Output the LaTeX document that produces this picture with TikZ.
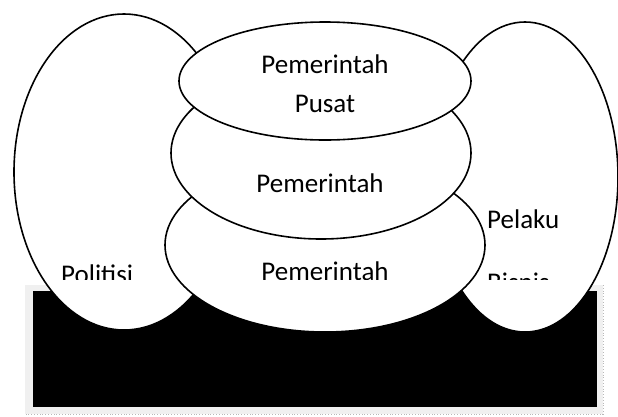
\documentclass[tikz,border=0pt]{standalone}
\usepackage{fontspec}
\setmainfont{Carlito}
\usetikzlibrary{shapes.geometric}
\begin{document}
\begin{tikzpicture}[x=1pt,y=-1pt,
  oval/.style={ellipse, draw=black, fill=white, line width=1.6pt, inner sep=0pt, outer sep=0pt},
  lbl/.style={inner sep=0pt, font=\fontsize{27}{32}\selectfont}]
\useasboundingbox (0,0) rectangle (618,416);
% framed black box
\fill[gray!12] (25,285) rectangle (603,414);
\draw[gray!55, dotted, line width=0.8pt] (603,285) -- (603,414) -- (25,414);
\fill[black] (33,291) rectangle (597,407);
% ovals, back to front
\node[oval, minimum width=220pt, minimum height=316pt] (politisiOval) at (124,172) {};
\node[oval, minimum width=186pt, minimum height=310pt] (bisnisOval) at (525,177) {};
\node[oval, minimum width=320pt, minimum height=174pt] (bawahOval) at (325,245) {};
\node[oval, minimum width=300pt, minimum height=172pt] (tengahOval) at (321,153) {};
\node[oval, minimum width=292pt, minimum height=118pt] (pusatOval) at (325,81) {};
% labels, clipped like the original text boxes
\begin{scope}
\clip (0,0) rectangle (618,279);
\node[lbl, anchor=base] (pusat1) at (325,73) {Pemerintah};
\node[lbl, anchor=base] (pusat2) at (325,112) {Pusat};
\node[lbl, anchor=base] (tengah) at (320,192) {Pemerintah};
\node[lbl, anchor=base] (bawah) at (325,280) {Pemerintah};
\node[lbl, anchor=base west] (politisi) at (61,283) {Politisi};
\node[lbl, anchor=base west] (pelaku) at (487,228) {Pelaku};
\node[lbl, anchor=base west] (bisnis) at (487,291) {Bisnis};
\end{scope}
\end{tikzpicture}
\end{document}
